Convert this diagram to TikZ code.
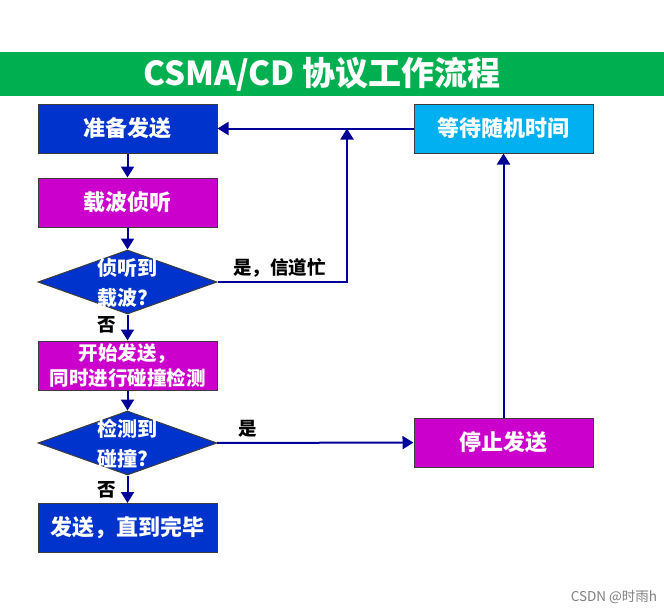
\documentclass[tikz,border=0pt]{standalone}
\usepackage{fontspec}
\setmainfont{Noto Sans CJK SC}
\usetikzlibrary{shapes.geometric,arrows.meta}
\definecolor{titlegreen}{RGB}{0,176,80}
\definecolor{boxblue}{RGB}{0,51,204}
\definecolor{boxmag}{RGB}{204,0,204}
\definecolor{boxcyan}{RGB}{0,176,240}
\definecolor{linecol}{RGB}{0,0,153}
\definecolor{edgegray}{RGB}{60,60,60}
\tikzset{
  every node/.style={font=\bfseries},
  boxnode/.style={draw=edgegray, line width=1pt, minimum width=179pt, minimum height=49pt, inner sep=0pt, text=white, font=\fontsize{22}{25}\selectfont\bfseries, align=center},
  dia/.style={draw=edgegray, line width=1pt, diamond, minimum width=179pt, minimum height=64pt, inner sep=0pt, fill=boxblue},
  diatext/.style={text=white, font=\fontsize{20}{30}\selectfont\bfseries, align=left, inner sep=0pt},
  lbl/.style={text=black, font=\fontsize{18.5}{22}\selectfont\bfseries, inner sep=0pt},
  conn/.style={draw=linecol, line width=2pt},
  arr/.style={conn, -{Triangle[length=11pt,width=13pt]}},
}
\begin{document}
\begin{tikzpicture}[x=1pt,y=-1pt]
\useasboundingbox (0,0) rectangle (664,613);
\fill[white] (0,0) rectangle (664,613);
% title
\fill[titlegreen] (0,52) rectangle (664,96);
\node[text=white, font=\fontsize{33}{36}\selectfont\bfseries] (title) at (322,74) {CSMA/CD 协议工作流程};
% boxes
\node[boxnode, fill=boxblue] (b1) at (127.5,128.5) {准备发送};
\node[boxnode, fill=boxmag] (b2) at (127.5,202.5) {载波侦听};
\node[dia] (d1) at (127.5,282) {};
\node[diatext] (d1t) at (127.5,283) {侦听到\\载波?};
\node[boxnode, fill=boxmag, font=\fontsize{19.5}{25}\selectfont\bfseries] (b3) at (127.5,365.5) {开始发送，\\同时进行碰撞检测};
\node[dia] (d2) at (127.5,443) {};
\node[diatext] (d2t) at (127.5,444) {检测到\\碰撞?};
\node[boxnode, fill=boxblue] (b5) at (127.5,528) {发送，直到完毕};
\node[boxnode, fill=boxcyan] (w) at (503.5,128.5) {等待随机时间};
\node[boxnode, fill=boxmag] (s) at (503.5,442.5) {停止发送};
% labels
\node[lbl, anchor=west] (l1) at (233,268) {是，信道忙};
\node[lbl] (l2) at (107,325) {否};
\node[lbl] (l3) at (248,429) {是};
\node[lbl] (l4) at (107,490) {否};
\node[text=gray, font=\fontsize{13.5}{15}\selectfont\mdseries] (wm) at (614,597) {CSDN @时雨h};
% connectors
\coordinate (c1) at (347,128.5);
\draw[arr] (b1) -- (b2);
\draw[arr] (b2) -- (d1);
\draw[arr] (d1) -- (b3);
\draw[arr] (b3) -- (d2);
\draw[arr] (d2) -- (b5);
\draw[arr] (d1.east) -| (c1);
\draw[arr] (w) -- (b1);
\draw[arr] (d2) -- (s);
\draw[arr] (s) -- (w);
\end{tikzpicture}
\end{document}
